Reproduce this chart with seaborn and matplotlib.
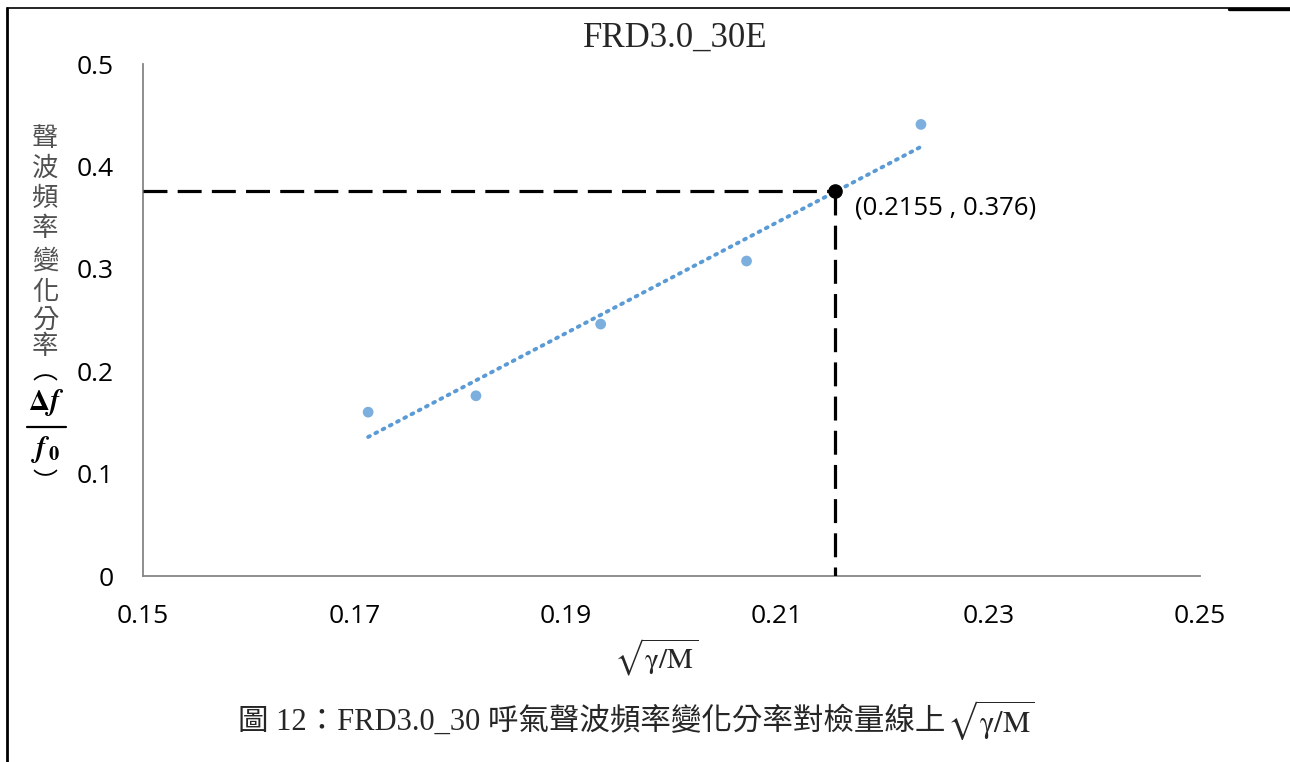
import numpy as np
import pandas as pd
import matplotlib
matplotlib.use("Agg")
import matplotlib.pyplot as plt
import seaborn as sns
from matplotlib.lines import Line2D

# ---- data ----
x_vals = [0.1713, 0.1815, 0.1933, 0.2071, 0.2236]
y_vals = [0.160, 0.176, 0.246, 0.3076, 0.441]
point_x = 0.2155
point_y = 0.376
x_ticks = [0.15, 0.17, 0.19, 0.21, 0.23, 0.25]
y_ticks = [0, 0.1, 0.2, 0.3, 0.4, 0.5]
title = "FRD3.0_30E"
ylabel_chars = ["聲", "波", "頻", "率", "變", "化", "分", "率"]
caption_text = "圖 12：FRD3.0_30 呼氣聲波頻率變化分率對檢量線上"
caption_math = r"$\sqrt{\mathrm{γ/M}}$"
xlabel = r"$\sqrt{\mathrm{γ/M}}$"

df = pd.DataFrame({"x": x_vals, "y": y_vals})

sns.set_style("white")
plt.rcParams["font.family"] = ["Open Sans", "Noto Sans CJK TC", "DejaVu Sans"]
plt.rcParams["mathtext.fontset"] = "stix"

W, H = 1290, 762
fig = plt.figure(figsize=(W / 100, H / 100), dpi=100)
ax = fig.add_axes([143 / W, 1 - 576 / H, (1200 - 143) / W, (576 - 64) / H])

blue = "#5B9BD5"
sns.regplot(data=df, x="x", y="y", ax=ax, ci=None, truncate=True,
            scatter_kws=dict(s=60, color=blue, edgecolor="none", zorder=3),
            line_kws=dict(color=blue, lw=2.8, linestyle=(0, (0.5, 1.6)),
                          dash_capstyle="round", zorder=2))

# dashed guide lines
dash = (0, (7.5, 3.2))
ax.plot([0.15, point_x], [point_y, point_y], color="black", lw=2.3,
        linestyle=dash, zorder=4)
ax.plot([point_x, point_x], [point_y, 0], color="black", lw=2.3,
        linestyle=dash, zorder=4)
ax.plot([point_x], [point_y], "o", color="black", ms=9.5, zorder=5)
ax.annotate(f"({point_x} , {point_y})", (point_x, point_y), xytext=(14, -3),
            textcoords="offset points", ha="left", va="top", fontsize=18.5,
            color="black")

ax.set_xlim(0.15, 0.25)
ax.set_ylim(0, 0.5)
ax.set_xticks(x_ticks)
ax.set_yticks(y_ticks)
ax.set_xticklabels([f"{v:g}" for v in x_ticks])
ax.set_yticklabels([f"{v:g}" for v in y_ticks])
ax.tick_params(axis="both", direction="in", length=7, width=1.2,
               color="#868686", labelsize=19, labelcolor="black")
ax.tick_params(axis="x", pad=20)
ax.tick_params(axis="y", pad=21)
for s in ["top", "right"]:
    ax.spines[s].set_visible(False)
for s in ["left", "bottom"]:
    ax.spines[s].set_color("#868686")
    ax.spines[s].set_linewidth(1.3)
ax.set_xlabel("")
ax.set_ylabel("")

# title
fig.text(675 / W, 1 - 38 / H, title, ha="center", va="center", fontsize=25,
         family=["Liberation Serif", "DejaVu Serif"])

# x label
fig.text(656 / W, 1 - 657 / H, xlabel, ha="center", va="center", fontsize=21)

# y label (vertical stacked)
ys = [139, 168, 198, 228, 261, 292, 321, 347]
for ch, yy in zip(ylabel_chars, ys):
    fig.text(45 / W, 1 - yy / H, ch, ha="center", va="center",
             fontsize=19, color="#505050",
             family=["Noto Sans CJK TC", "DejaVu Sans"])
fig.text(45 / W, 1 - 372 / H, "︵", ha="center", va="center", fontsize=18,
         color="black", family=["Noto Sans CJK TC", "DejaVu Sans"])
fig.text(46 / W, 1 - 403 / H, r"$\mathbf{\Delta}\boldsymbol{f}$", ha="center",
         va="center", fontsize=21, color="black")
fig.add_artist(Line2D([27 / W, 66 / W], [1 - 427 / H, 1 - 427 / H],
                      color="black", lw=1.6))
fig.text(46 / W, 1 - 450 / H, r"$\boldsymbol{f}_{\,\mathbf{0}}$", ha="center",
         va="center", fontsize=21, color="black")
fig.text(45 / W, 1 - 483 / H, "︶", ha="center", va="center", fontsize=18,
         color="black", family=["Noto Sans CJK TC", "DejaVu Sans"])

# caption: CJK part + sqrt part placed right after
t1 = fig.text(0, 1 - 722 / H, caption_text, ha="left", va="center", fontsize=22,
              family=["Liberation Serif", "Noto Sans CJK TC"])
t2 = fig.text(0, 1 - 720 / H, caption_math, ha="left", va="center", fontsize=22)
r = fig.canvas.get_renderer()
w1 = t1.get_window_extent(r).width
w2 = t2.get_window_extent(r).width
start = 636 - (w1 + w2) / 2
t1.set_x(start / W)
t2.set_x((start + w1 + 1) / W)

# page frame lines
fig.add_artist(Line2D([7 / W, 7 / W], [0, 1 - 8 / H], color="black", lw=2))
fig.add_artist(Line2D([7 / W, 1], [1 - 8 / H, 1 - 8 / H], color="black", lw=1.2))
fig.add_artist(Line2D([1229 / W, 1], [1 - 9 / H, 1 - 9 / H], color="black", lw=2.4))

fig.savefig("out.png", dpi=100)
